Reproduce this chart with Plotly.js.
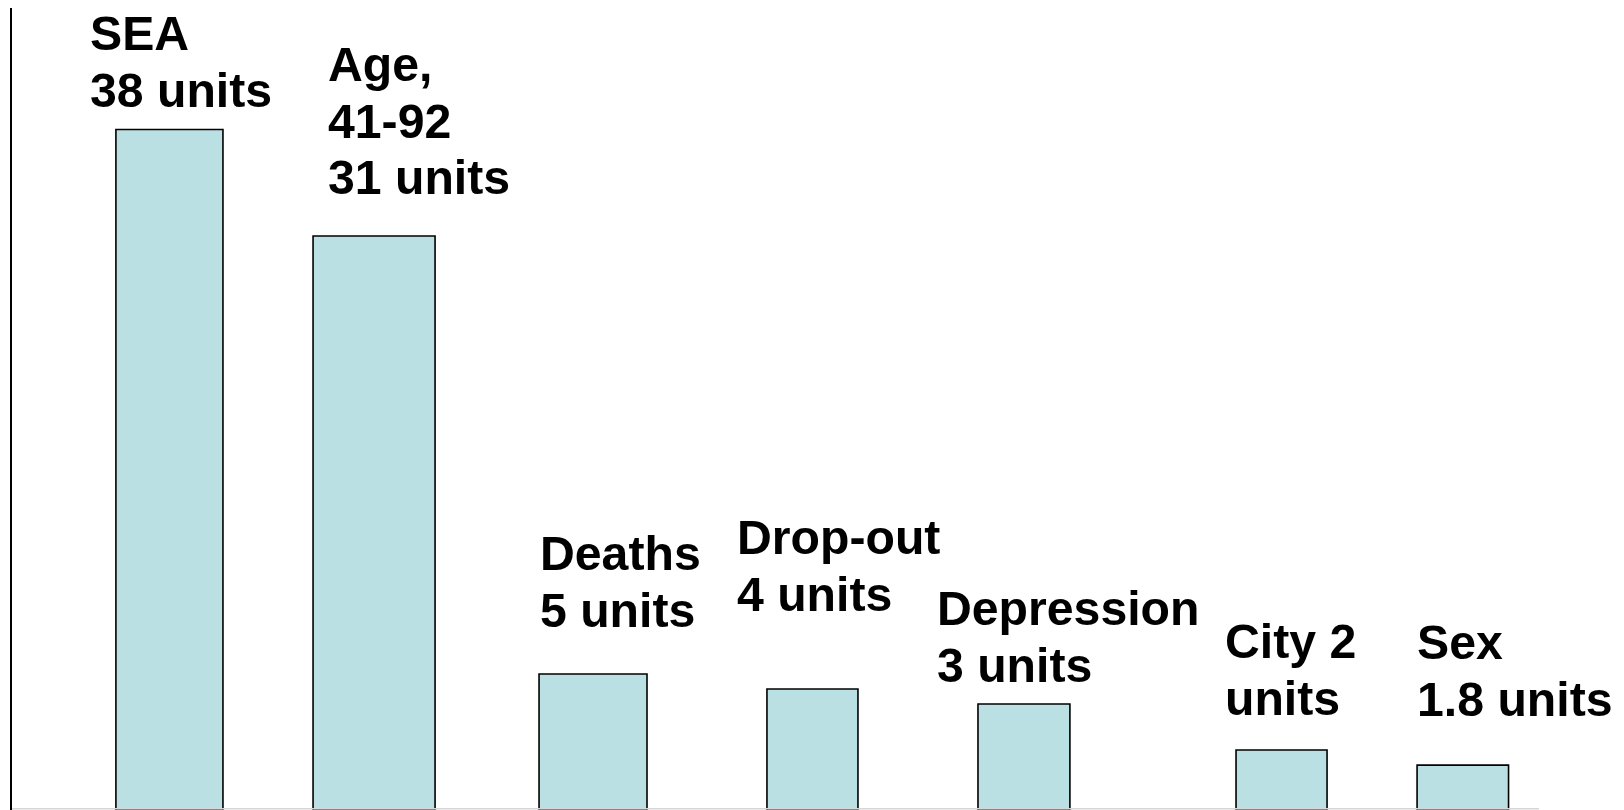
<!DOCTYPE html>
<html>
<head>
<meta charset="utf-8">
<script src="https://cdn.plot.ly/plotly-3.0.1.min.js"></script>
<style>
  html, body { margin: 0; padding: 0; background: #fff; }
  #chart { width: 1624px; height: 810px; }
</style>
</head>
<body>
<div id="chart"></div>
<script>
// Categories and the drawn bar heights (in plot units)
const categories = ["SEA", "Age", "Deaths", "Drop-out", "Depression", "City", "Sex"];
const barHeights = [38.18, 32.21, 7.63, 6.79, 5.95, 3.37, 2.52];
// Label lines shown above each bar
const labelLines = [
  ["SEA", "38 units"],
  ["Age,", "41-92", "31 units"],
  ["Deaths", "5 units"],
  ["Drop-out", "4 units"],
  ["Depression", "3 units"],
  ["City 2", "units"],
  ["Sex", "1.8 units"]
];

// Layout / position settings (not data)
const barCenters = [1.031, 2.371, 3.805, 5.242, 6.627, 8.314, 9.501];
const barWidths = [0.701, 0.799, 0.707, 0.596, 0.602, 0.596, 0.599];
const labelX = [0.500, 2.059, 3.447, 4.737, 6.047, 7.933, 9.191];
const labelTopY = [43.60, 41.86, 14.42, 15.32, 11.33, 9.48, 9.43];
const lineStep = 3.180;

const trace = {
  type: "bar",
  x: barCenters,
  y: barHeights,
  width: barWidths,
  text: categories,
  textposition: "none",
  hoverinfo: "text+y",
  marker: {
    color: "#BBE0E3",
    line: { color: "#000000", width: 1.6 }
  },
  cliponaxis: false
};

const annotations = [];
labelLines.forEach((lines, i) => {
  lines.forEach((ln, j) => {
    annotations.push({
      xref: "x", yref: "y",
      x: labelX[i],
      y: labelTopY[i] - j * lineStep,
      xanchor: "left", yanchor: "middle",
      text: "<b>" + ln + "</b>",
      showarrow: false,
      font: { family: "Liberation Sans, Arial, sans-serif", size: 48.2, color: "#000" }
    });
  });
});

const layout = {
  width: 1624, height: 810,
  margin: { l: 12, r: 85, t: 8, b: 0 },
  paper_bgcolor: "#ffffff",
  plot_bgcolor: "#ffffff",
  showlegend: false,
  xaxis: {
    range: [0, 10],
    showgrid: false, zeroline: false,
    showticklabels: false, ticks: "",
    showline: false
  },
  yaxis: {
    range: [0, 45],
    showgrid: false, zeroline: false,
    showticklabels: false, ticks: "",
    showline: true, linecolor: "#000000", linewidth: 2.5
  },
  shapes: [{
    type: "line", xref: "paper", yref: "paper",
    x0: 0, x1: 1, y0: 1.2 / 802, y1: 1.2 / 802,
    line: { color: "#d6d6d6", width: 1.5 },
    layer: "above"
  }],
  annotations: annotations
};

Plotly.newPlot("chart", [trace], layout, { displayModeBar: false, staticPlot: true });
</script>
</body>
</html>
